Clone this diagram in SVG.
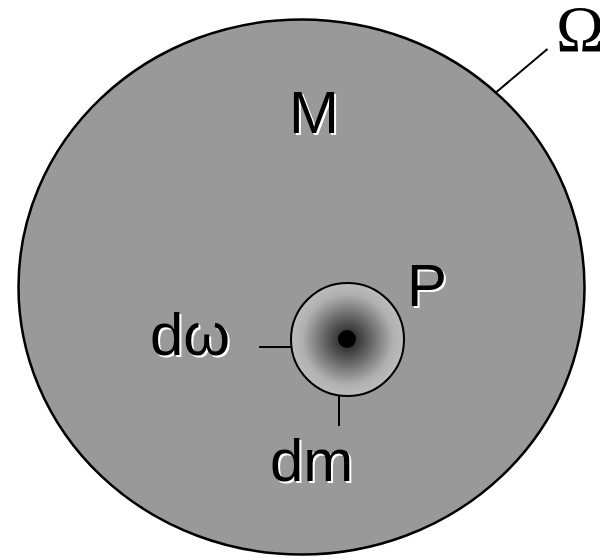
<svg xmlns="http://www.w3.org/2000/svg" width="600" height="557" viewBox="0 0 600 557">
<style>
.lbl{font-family:"Liberation Sans",Arial,sans-serif;font-size:60px}
.sh{fill:#fff}
.fg{fill:#000}
.ln{stroke:#000;stroke-width:2;fill:none}
</style>
<defs>
<radialGradient id="g" cx="0.5" cy="0.5" r="0.5">
<stop offset="0" stop-color="#1a1a1a"/>
<stop offset="0.35" stop-color="#5a5a5a"/>
<stop offset="0.8" stop-color="#b0b0b0"/>
<stop offset="1" stop-color="#bcbcbc"/>
</radialGradient>
</defs>
<rect width="600" height="557" fill="#fff"/>
<g id="region-M">
<ellipse cx="301.5" cy="287" rx="283" ry="267.5" fill="#999" stroke="#000" stroke-width="2.5"/>
</g>
<g id="element-P">
<circle cx="347.5" cy="339.5" r="56.5" fill="url(#g)" stroke="#000" stroke-width="2"/>
<circle cx="347" cy="339" r="9" fill="#000"/>
</g>
<g id="connectors">
<line class="ln" x1="496.5" y1="92" x2="547.5" y2="49"/>
<line class="ln" x1="259" y1="347" x2="291" y2="347"/>
<line class="ln" x1="339" y1="396" x2="339" y2="426"/>
</g>
<g id="labels">
<g id="label-M"><text class="lbl sh" x="291" y="135">M</text><text class="lbl fg" x="289" y="133">M</text></g>
<g id="label-P"><text class="lbl sh" x="409" y="308">P</text><text class="lbl fg" x="407" y="306">P</text></g>
<g id="label-domega"><text class="lbl sh" x="152" y="357">dω</text><text class="lbl fg" x="150" y="355">dω</text></g>
<g id="label-dm"><text class="lbl sh" x="272" y="483">dm</text><text class="lbl fg" x="270" y="481">dm</text></g>
<g id="label-Omega"><text x="556" y="51" font-family="'Liberation Serif','Times New Roman',serif" font-size="65" fill="#000">Ω</text></g>
</g>
</svg>
